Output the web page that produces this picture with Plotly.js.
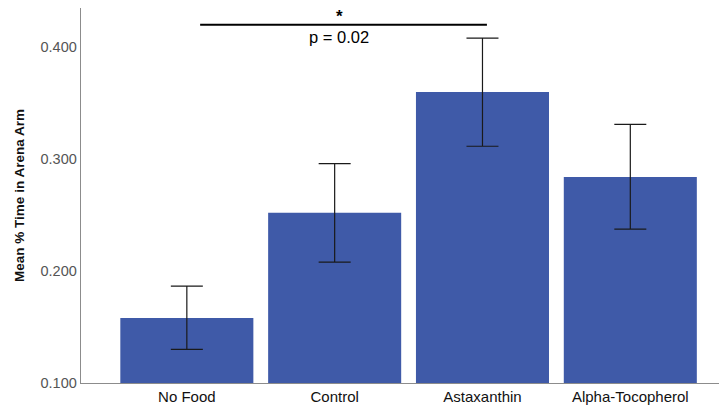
<!DOCTYPE html>
<html><head><meta charset="utf-8">
<script src="https://cdn.plot.ly/plotly-3.0.1.min.js"></script>
<style>html,body{margin:0;padding:0;background:#fff}#c{width:719px;height:408px}</style>
</head><body><div id="c"></div>
<script>
const categories = ["No Food", "Control", "Astaxanthin", "Alpha-Tocopherol"];
const means = [0.158, 0.252, 0.360, 0.284];
const upper = [0.1865, 0.296, 0.408, 0.331];
const lower = [0.130, 0.208, 0.3115, 0.2375];
const yTicks = [0.1, 0.2, 0.3, 0.4];
const yTickLabels = ["0.100", "0.200", "0.300", "0.400"];

const trace = {
  type: "bar", x: [0,1,2,3], y: means,
  marker: {color: "#3F5AA8", line: {width: 0}},
  error_y: {type: "data", symmetric: false,
    array: upper.map((u,i)=>u-means[i]),
    arrayminus: lower.map((l,i)=>means[i]-l),
    color: "#1a1a1a", thickness: 1.2, width: 16},
  hoverinfo: "none"
};
const layout = {
  width: 719, height: 408,
  margin: {l: 81, r: 0, t: 8, b: 25},
  paper_bgcolor: "#fff", plot_bgcolor: "#fff",
  bargap: 0.1, showlegend: false,
  font: {family: "Liberation Sans, Arial, sans-serif"},
  xaxis: {range: [-0.716, 3.6], tickvals: [0,1,2,3], ticktext: categories,
    showgrid: false, zeroline: false, showline: true, linecolor: "#8c8c8c", linewidth: 1.3,
    ticks: "", tickfont: {size: 15, color: "#111"}},
  yaxis: {range: [0.1, 0.435], tickvals: yTicks, ticktext: yTickLabels,
    showgrid: false, zeroline: false, showline: true, linecolor: "#8c8c8c", linewidth: 1.3,
    ticks: "", ticklen: 0, tickfont: {size: 14.5, color: "#555"},
    title: {text: "<b>Mean % Time in Arena Arm</b>", font: {size: 13.5, color: "#111"}, standoff: 12}},
  shapes: [{type: "line", xref: "x", yref: "y", x0: 0.09, x1: 2.03, y0: 0.42, y1: 0.42,
    line: {color: "#000", width: 2}}],
  annotations: [
    {xref: "x", yref: "y", x: 1.03, y: 0.42, text: "<b>*</b>", showarrow: false, yanchor: "bottom", yshift: -3,
     font: {size: 17, color: "#000"}},
    {xref: "x", yref: "y", x: 1.03, y: 0.42, text: "p = 0.02", showarrow: false, yanchor: "top", yshift: -1,
     font: {size: 16.5, color: "#000"}}
  ]
};
Plotly.newPlot("c", [trace], layout, {displayModeBar: false, staticPlot: true});
</script></body></html>
